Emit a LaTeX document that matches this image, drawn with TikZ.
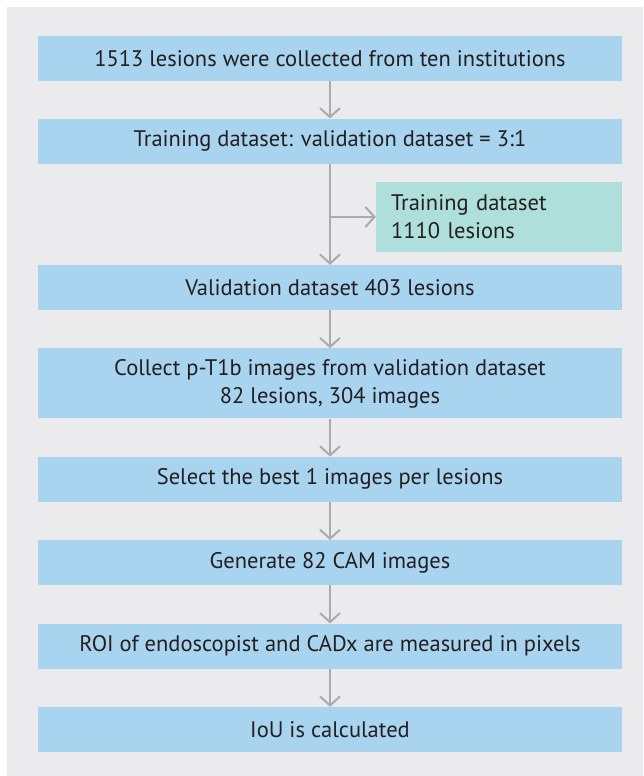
\documentclass[tikz,border=0pt]{standalone}
\usepackage{fontspec}
\setmainfont{PT Sans}
\usetikzlibrary{arrows.meta, positioning, calc}
\definecolor{panel}{HTML}{EBEBEE}
\definecolor{stepblue}{HTML}{A9D4EF}
\definecolor{stepgreen}{HTML}{AEDFDA}
\definecolor{linegray}{HTML}{ABABAB}
\definecolor{ink}{HTML}{231F20}
\tikzset{
  flowbox/.style={fill=stepblue, minimum width=584pt, minimum height=45pt,
                  align=center, inner sep=0pt, font=\fontsize{22.5}{28}\selectfont, text=ink},
  sidebox/.style={fill=stepgreen, minimum height=70pt, text width=216pt,
                  inner xsep=15pt, inner ysep=0pt, align=left,
                  font=\fontsize{22.5}{28}\selectfont, text=ink},
  fl/.style={-{Straight Barb[length=9pt, width=20pt, line width=2pt]}, line width=2pt, draw=linegray},
}

\begin{document}
\begin{tikzpicture}[node distance=38pt]
    \useasboundingbox (0,0) rectangle (643pt,-776pt);
    \fill[panel] (7pt,-7pt) rectangle (643pt,-776pt);
    \node[flowbox, anchor=north] (a) at (330pt,-36pt) {1513 lesions were collected from ten institutions};
    \node[flowbox, below=37pt of a] (b) {Training dataset: validation dataset = 3:1};
    \node[flowbox, below=101pt of b] (c) {Validation dataset 403 lesions};
    \node[flowbox, minimum height=70pt, below=of c] (d) {Collect p-T1b images from validation dataset\\82 lesions, 304 images};
    \node[flowbox, below=of d] (e) {Select the best 1 images per lesions};
    \node[flowbox, below=of e] (f) {Generate 82 CAM images};
    \node[flowbox, below=of f] (g) {ROI of endoscopist and CADx are measured in pixels};
    \node[flowbox, below=of g] (h) {IoU is calculated};
    \node[sidebox, below left=18pt and 0pt of b.south east] (t) {Training dataset\\1110 lesions};
    \coordinate (split) at (b.south |- t.west);
    \draw[fl] (a) -- (b); \draw[fl] (b) -- (c); \draw[fl] (split) -- (t.west);
    \draw[fl] (c) -- (d); \draw[fl] (d) -- (e); \draw[fl] (e) -- (f);
    \draw[fl] (f) -- (g); \draw[fl] (g) -- (h);
\end{tikzpicture}
\end{document}
